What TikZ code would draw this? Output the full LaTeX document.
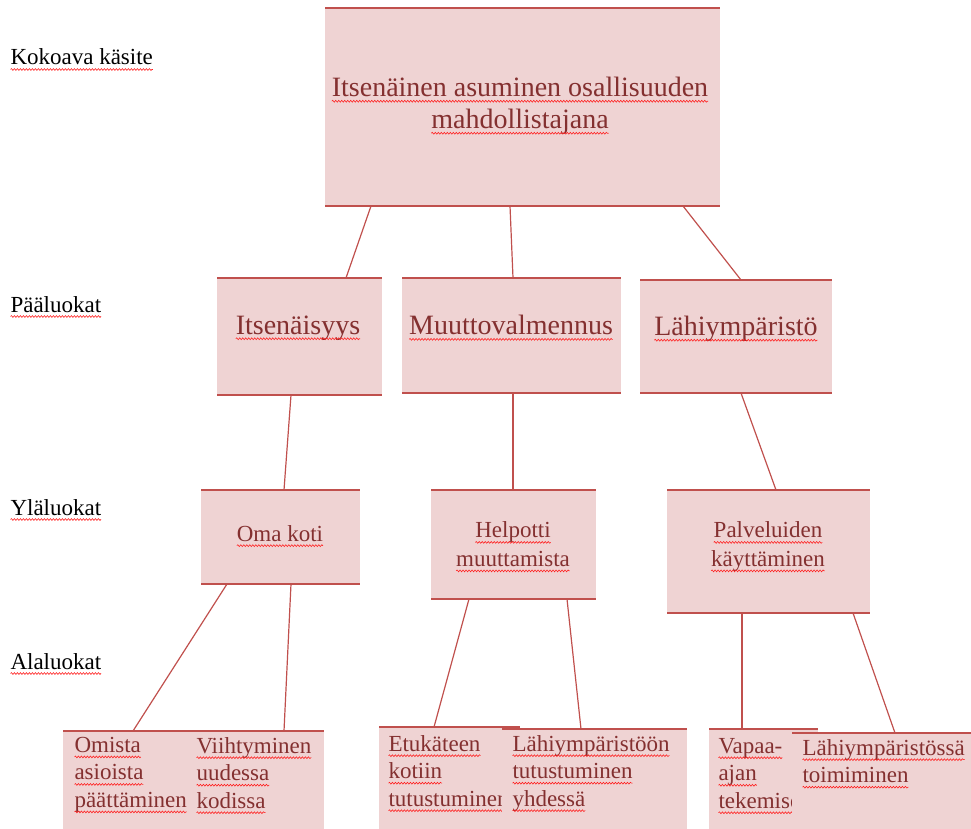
\documentclass[tikz,border=0pt]{standalone}
\usepackage{fontspec}
\setmainfont{Liberation Serif}
\usetikzlibrary{decorations.pathmorphing}
\definecolor{boxfill}{HTML}{EFD3D3}
\definecolor{edgecol}{HTML}{C0504D}
\definecolor{txt}{HTML}{843030}
\definecolor{waveclr}{HTML}{FF2020}
\newcommand\sq[1]{\tikz[baseline=(sqw.base)]{\node[inner sep=0pt,outer sep=0pt] (sqw) {#1};
  \draw[waveclr, line width=0.6pt, decorate, decoration={snake, amplitude=0.9pt, segment length=3pt}] ([yshift=-4.5pt]sqw.base west) -- ([yshift=-4.5pt]sqw.base east);}}
\newcommand\mkbox[5]{%
  \node[boxnode, minimum width=#4pt, minimum height=#5pt, anchor=north west] (#1) at (#2,#3) {};
  \draw[edgeline] (#1.north west) -- (#1.north east) (#1.south west) -- (#1.south east);}
\tikzset{
  boxnode/.style={fill=boxfill, inner sep=0pt, outer sep=0pt},
  edgeline/.style={draw=edgecol, line width=1.5pt},
  conn/.style={draw=edgecol, line width=1.2pt},
  lbl/.style={inner sep=0pt, anchor=base west, font=\fontsize{23}{27}\selectfont},
  tbig/.style={text=txt, inner sep=0pt, align=center, font=\fontsize{28}{32}\selectfont},
  tmid/.style={text=txt, inner sep=0pt, align=center, font=\fontsize{23}{28.5}\selectfont},
  tlow/.style={text=txt, inner sep=0pt, align=left, anchor=north west, font=\fontsize{23}{27.5}\selectfont},
}
\begin{document}
\begin{tikzpicture}[x=1pt,y=-1pt]
\useasboundingbox (0,0) rectangle (971,829);
\clip (0,0) rectangle (971,829);

% left labels
\node[lbl] (l1) at (10,65) {\sq{Kokoava käsite}};
\node[lbl] (l2) at (10,312) {\sq{Pääluokat}};
\node[lbl] (l3) at (10,515) {\sq{Yläluokat}};
\node[lbl] (l4) at (10,669) {\sq{Alaluokat}};

% top
\mkbox{top}{325}{8}{395}{198}
\node[tbig] (topt) at (520,106) {\sq{Itsenäinen asuminen osallisuuden}\\\sq{mahdollistajana}};

% level 2
\mkbox{it}{217}{278}{165}{117}
\node[tbig] (itt) at (298,328) {\sq{Itsenäisyys}};
\mkbox{mv}{402}{278}{219}{115}
\node[tbig] (mvt) at (511,328) {\sq{Muuttovalmennus}};
\mkbox{lp}{640}{280}{192}{113}
\node[tbig] (lpt) at (736,329) {\sq{Lähiympäristö}};

% level 3
\mkbox{ok}{201}{490}{159}{94}
\node[tmid] (okt) at (280,536) {\sq{Oma koti}};
\mkbox{hm}{431}{490}{165}{109}
\node[tmid] (hmt) at (513,547) {\sq{Helpotti}\\\sq{muuttamista}};
\mkbox{pk}{667}{490}{203}{123}
\node[tmid] (pkt) at (768,547) {\sq{Palveluiden}\\\sq{käyttäminen}};

% level 4
\mkbox{a1}{63}{731}{127}{104}
\node[tlow] (a1t) at (74,737) {\sq{Omista}\\\sq{asioista}\\\sq{päättäminen}};
\mkbox{a2}{190}{731}{134}{104}
\node[tlow] (a2t) at (196,737) {\sq{Viihtyminen}\\\sq{uudessa}\\\sq{kodissa}};
\mkbox{b1}{379}{727}{141}{108}
\node[tlow] (b1t) at (388,735) {\sq{Etukäteen}\\\sq{kotiin}\\\sq{tutustuminen}};
\mkbox{b2}{502}{729}{185}{106}
\node[tlow] (b2t) at (512,735) {\sq{Lähiympäristöön}\\\sq{tutustuminen}\\\sq{yhdessä}};
\mkbox{c1}{709}{729}{109}{106}
\node[tlow] (c1t) at (718,738) {\sq{Vapaa-}\\\sq{ajan}\\\sq{tekemisen}};
\mkbox{c2}{792}{733}{190}{102}
\node[tlow] (c2t) at (802,739) {\sq{Lähiympäristössä}\\\sq{toimiminen}};

% connectors
\draw[conn] ([xshift=46pt]top.south west) -- ([xshift=129pt]it.north west);
\draw[conn] ([xshift=185pt]top.south west) -- ([xshift=111pt]mv.north west);
\draw[conn] ([xshift=358pt]top.south west) -- ([xshift=101pt]lp.north west);
\draw[conn] ([xshift=74pt]it.south west) -- ([xshift=83pt]ok.north west);
\draw[conn] ([xshift=111pt]mv.south west) -- ([xshift=82pt]hm.north west);
\draw[conn] ([xshift=101pt]lp.south west) -- ([xshift=109pt]pk.north west);
\draw[conn] ([xshift=26pt]ok.south west) -- ([xshift=70pt]a1.north west);
\draw[conn] ([xshift=90pt]ok.south west) -- ([xshift=94pt]a2.north west);
\draw[conn] ([xshift=38pt]hm.south west) -- ([xshift=55pt]b1.north west);
\draw[conn] ([xshift=136pt]hm.south west) -- ([xshift=79pt]b2.north west);
\draw[conn] ([xshift=75pt]pk.south west) -- ([xshift=33pt]c1.north west);
\draw[conn] ([xshift=186pt]pk.south west) -- ([xshift=103pt]c2.north west);
\end{tikzpicture}
\end{document}
